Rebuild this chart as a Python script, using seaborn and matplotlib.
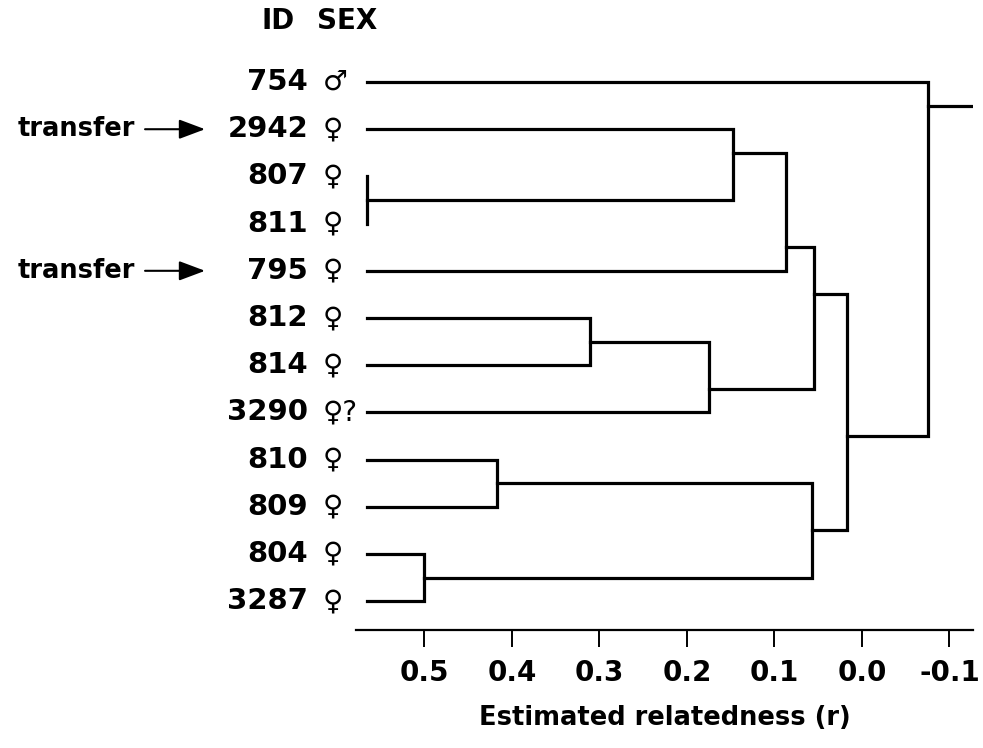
import pandas as pd
import matplotlib
matplotlib.use('Agg')
import matplotlib.pyplot as plt
import seaborn as sns

#------------------------------------------
# leaves, top to bottom
leaf_id=['754', '2942', '807', '811', '795', '812', '814', '3290', '810', '809', '804', '3287']
leaf_sex=['♂', '♀', '♀', '♀', '♀', '♀', '♀', '♀?', '♀', '♀', '♀', '♀']
transfer_id=['2942', '795']
leaf_r=0.565    #relatedness at the tips

# merges (node 12 onwards), children given as leaf / node index
merge_a=[2, 1, 13, 5, 15, 14, 8, 10, 18, 17, 0]
merge_b=[3, 12, 4, 6, 7, 16, 9, 11, 19, 20, 21]
merge_r=[0.565, 0.147, 0.087, 0.311, 0.175, 0.055, 0.417, 0.500, 0.057, 0.017, -0.075]
root_r=-0.135

tick_vals=[0.5, 0.4, 0.3, 0.2, 0.1, 0.0, -0.1]
tick_labels=['0.5', '0.4', '0.3', '0.2', '0.1', '0.0', '-0.1']

######################################################
# node bookkeeping: first leaf, last leaf, row, r
nodes=[(i, i, float(i), leaf_r) for i in range(len(leaf_id))]
rows=[]
for k, (a, b, r) in enumerate(zip(merge_a, merge_b, merge_r)):
    fa, la, ya, ra=nodes[a]
    fb, lb, yb, rb=nodes[b]
    y=(la+fb)/2
    nodes.append((fa, lb, y, r))
    for x_, y_ in [(ra, ya), (r, ya), (r, yb), (rb, yb)]:
        rows.append({'seg': k, 'r': x_, 'row': y_})
# root tail
_, _, y_root, r_top=nodes[-1]
rows += [{'seg': 99, 'r': r_top, 'row': y_root}, {'seg': 99, 'r': root_r, 'row': y_root}]
df=pd.DataFrame(rows)

#-----------------------------------------
sns.set_style('white')
plt.rcParams['font.family']=['DejaVu Sans']
plt.rcParams['text.color']='black'
plt.rcParams['axes.labelcolor']='black'

fig=plt.figure(figsize=(9.83, 7.48), dpi=100)
ax=fig.add_axes([0.3622, 0.1578, 0.6277, 0.7704])
ax_w=0.6277*983    #axes width in px

sns.lineplot(data=df, x='r', y='row', units='seg', estimator=None, sort=False,
             color='black', lw=2.3, ax=ax, solid_capstyle='projecting', solid_joinstyle='miter')

ax.set_xlim(0.578, -0.127)
ax.set_ylim(11.61, -0.6)
ax.set_yticks([])
ax.set_ylabel('')
ax.set_xticks(tick_vals, tick_labels)
sns.despine(ax=ax, left=True)
ax.spines['bottom'].set_linewidth(1.6)
ax.spines['bottom'].set_color('black')
ax.tick_params(axis='x', bottom=True, direction='out', length=12, width=1.4,
               pad=9, labelsize=20, colors='black')
for t in ax.get_xticklabels():
    t.set_fontweight('bold')
ax.set_xlabel('Estimated relatedness (r)', fontsize=18.5, weight='bold', labelpad=13)

# leaf labels
tr=ax.get_yaxis_transform()
for i, (lid, sx) in enumerate(zip(leaf_id, leaf_sex)):
    ax.text(-48/ax_w, i, lid, transform=tr, ha='right', va='center',
            fontsize=21, weight='bold')
    ax.text(-33/ax_w, i, sx, transform=tr, ha='left', va='center', fontsize=20)
    if lid in transfer_id:
        ax.text(-221/ax_w, i, 'transfer', transform=tr, ha='right', va='center',
                fontsize=18.5, weight='bold')
        ax.annotate('', xy=(-151/ax_w, i), xycoords=tr, xytext=(-211/ax_w, i), textcoords=tr,
                    arrowprops=dict(arrowstyle='-|>,head_length=1.6,head_width=0.6',
                                    mutation_scale=10, lw=1.5, color='black',
                                    shrinkA=0, shrinkB=0))

# header
ax.text(-61/ax_w, -1.29, 'ID', transform=tr, ha='right', va='center', fontsize=20, weight='bold')
ax.text(-39/ax_w, -1.29, 'SEX', transform=tr, ha='left', va='center', fontsize=20, weight='bold')

plt.savefig('out.png', dpi=100)
plt.close()
